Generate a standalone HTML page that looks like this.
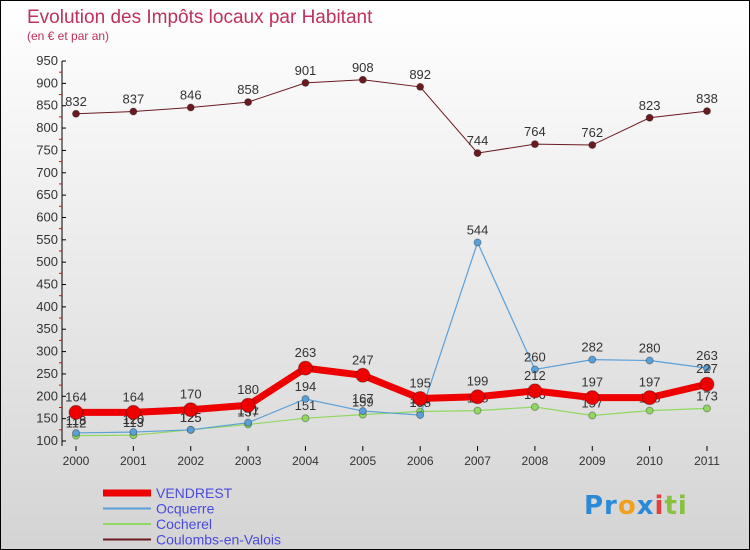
<!DOCTYPE html>
<html><head><meta charset="utf-8"><style>
body{margin:0}
#c{width:750px;height:550px;position:relative;overflow:hidden;box-sizing:border-box;border:1px solid #000;background:linear-gradient(#fff,#d4d4d4);font-family:"Liberation Sans",sans-serif}
svg text{font-family:"Liberation Sans",sans-serif}
</style></head><body>
<div id="c">
<svg id="s" width="750" height="550">
<text x="26" y="22" font-size="19" fill="#c0305a">Evolution des Impôts locaux par Habitant</text>
<text x="26" y="39" font-size="12" fill="#c0305a">(en € et par an)</text>
<g id="g"></g>
</svg>
<div style="position:absolute;left:583px;top:490px;font:bold 26px 'DejaVu Sans',sans-serif;letter-spacing:1px"><span style="color:#2a8ad8">Pr</span><span style="color:#f0a020">o</span><span style="color:#2a8ad8">x</span><span style="color:#e04040">i</span><span style="color:#88c040">ti</span></div>
</div>
<script>
const years=["2000","2001","2002","2003","2004","2005","2006","2007","2008","2009","2010","2011"];
const yTicks=[100,150,200,250,300,350,400,450,500,550,600,650,700,750,800,850,900,950];
const vendrest=[164,164,170,180,263,247,195,199,212,197,197,227];
const ocquerre=[118,120,125,141,194,167,158,544,260,282,280,263];
const cocherel=[112,113,125,137,151,159,166,168,176,157,168,173];
const coulombs=[832,837,846,858,901,908,892,744,764,762,823,838];
const series=[
 {name:"Coulombs-en-Valois",v:coulombs,c:"#6b1a20",w:1,r:3.5},
 {name:"Cocherel",v:cocherel,c:"#90d860",w:1.2,r:3.5},
 {name:"Ocquerre",v:ocquerre,c:"#5aa0d8",w:1.2,r:3.5},
 {name:"VENDREST",v:vendrest,c:"#ee0000",w:7,r:7}
];
const NS="http://www.w3.org/2000/svg",g=document.getElementById('g');
const X=i=>75+i*(706-75)/11, Y=v=>440-(v-100)*(380/850);
function el(t,a,p){const e=document.createElementNS(NS,t);for(const k in a)e.setAttribute(k,a[k]);(p||g).appendChild(e);return e;}
let ax=el('line',{x1:61,y1:60,x2:61,y2:445,stroke:"#000"});

yTicks.forEach(v=>{el('line',{x1:61,y1:Y(v),x2:65,y2:Y(v),stroke:"#000"});
 if(v<950)el('line',{x1:58,y1:Y(v+25),x2:61,y2:Y(v+25),stroke:"#e00"});
 let t=el('text',{x:57,y:Y(v)+4,"font-size":13,fill:"#333","text-anchor":"end"});t.textContent=v;
 });
years.forEach((y,i)=>{el('line',{x1:X(i),y1:445,x2:X(i),y2:450,stroke:"#000"});
 let t=el('text',{x:X(i),y:464,"font-size":12,fill:"#333","text-anchor":"middle"});t.textContent=y;
 });
series.forEach(s=>{
 let p=el('polyline',{points:s.v.map((v,i)=>X(i)+","+Y(v)).join(" "),fill:"none",stroke:s.c,"stroke-width":s.w});
 
 s.v.forEach((v,i)=>{let c=el('circle',{cx:X(i),cy:Y(v),r:s.r,fill:s.c,stroke:"rgba(0,0,0,0.3)"});
  
  let t=el('text',{x:X(i),y:Y(v)-(s.w>5?11:8),"font-size":13,fill:"#333","text-anchor":"middle"});t.textContent=v;
  });
});
const leg=[["VENDREST","#ee0000",7],["Ocquerre","#5aa0d8",2],["Cocherel","#90d860",2],["Coulombs-en-Valois","#6b1a20",2]];
leg.forEach((l,i)=>{let y=492+i*15.5;
 let ln=el('line',{x1:102,y1:y,x2:150,y2:y,stroke:l[1],"stroke-width":l[2]});
 
 let t=el('text',{x:155,y:y+5,"font-size":14,fill:"#4a4ae0"});t.textContent=l[0];
 });
</script>
</body></html>
